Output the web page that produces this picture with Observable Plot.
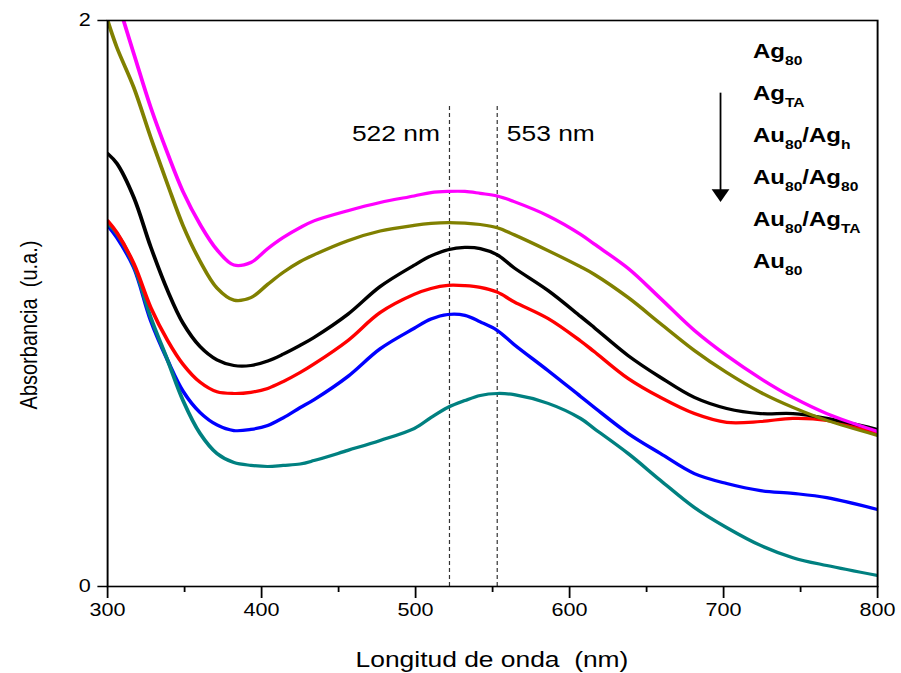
<!DOCTYPE html>
<html>
<head>
<meta charset="utf-8">
<script src="https://cdn.jsdelivr.net/npm/d3@7"></script>
<script src="https://cdn.jsdelivr.net/npm/@observablehq/plot@0.6"></script>
<style>
  html, body { margin: 0; padding: 0; background: #fff; }
  #chart svg { display: block; }
</style>
</head>
<body>
<div id="chart"></div>
<script>
// ---- data ----
const wavelength = [300, 306, 317, 328, 339, 349, 360, 371, 382, 393, 404, 414, 425, 434, 456, 477, 499, 510, 521, 532, 542, 553, 564, 586, 607, 616, 638, 659, 681, 702, 724, 745, 767, 800];
const ag80     = [2.17, 2.075, 1.883, 1.693, 1.53, 1.395, 1.28, 1.19, 1.136, 1.145, 1.194, 1.233, 1.268, 1.292, 1.328, 1.357, 1.38, 1.392, 1.396, 1.396, 1.389, 1.38, 1.36, 1.31, 1.245, 1.21, 1.124, 1.018, 0.905, 0.816, 0.735, 0.668, 0.611, 0.548];
const agTA     = [2.0, 1.905, 1.763, 1.587, 1.42, 1.275, 1.15, 1.055, 1.012, 1.021, 1.068, 1.11, 1.148, 1.172, 1.222, 1.256, 1.276, 1.283, 1.286, 1.284, 1.279, 1.268, 1.243, 1.187, 1.13, 1.103, 1.021, 0.929, 0.834, 0.756, 0.686, 0.633, 0.587, 0.534];
const au80Agh  = [1.53, 1.495, 1.375, 1.20, 1.045, 0.93, 0.848, 0.801, 0.781, 0.781, 0.797, 0.821, 0.852, 0.88, 0.962, 1.06, 1.135, 1.168, 1.19, 1.198, 1.194, 1.172, 1.126, 1.046, 0.955, 0.915, 0.816, 0.739, 0.668, 0.629, 0.611, 0.611, 0.594, 0.555];
const au80Ag80 = [1.293, 1.251, 1.141, 0.986, 0.869, 0.785, 0.722, 0.688, 0.682, 0.686, 0.70, 0.724, 0.756, 0.786, 0.869, 0.968, 1.032, 1.053, 1.064, 1.063, 1.057, 1.04, 1.006, 0.947, 0.868, 0.83, 0.735, 0.668, 0.611, 0.58, 0.583, 0.594, 0.587, 0.541];
const au80AgTA = [1.276, 1.233, 1.127, 0.94, 0.799, 0.69, 0.615, 0.571, 0.551, 0.555, 0.569, 0.596, 0.632, 0.66, 0.742, 0.84, 0.912, 0.945, 0.961, 0.958, 0.935, 0.905, 0.855, 0.763, 0.672, 0.633, 0.541, 0.47, 0.399, 0.364, 0.339, 0.329, 0.314, 0.272];
const au80     = [1.283, 1.247, 1.134, 0.951, 0.799, 0.657, 0.541, 0.47, 0.438, 0.428, 0.424, 0.428, 0.433, 0.445, 0.481, 0.516, 0.558, 0.597, 0.633, 0.657, 0.675, 0.682, 0.678, 0.647, 0.594, 0.558, 0.47, 0.375, 0.279, 0.208, 0.145, 0.102, 0.074, 0.039];

const seriesNames  = ["Ag80", "AgTA", "Au80/Agh", "Au80/Ag80", "Au80/AgTA", "Au80"];
const seriesColors = ["#ff00ff", "#808000", "#000000", "#ff0000", "#0000ff", "#008080"];
const legendLabels = ["Ag_80", "Ag_TA", "Au_80/Ag_h", "Au_80/Ag_80", "Au_80/Ag_TA", "Au_80"];
const drawOrder    = ["Au80/AgTA", "Au80", "Au80/Ag80", "Au80/Agh", "AgTA", "Ag80"];

const peakWavelengths = [522, 553];
const peakLabels      = ["522 nm", "553 nm"];

const xMajorTicks = [300, 400, 500, 600, 700, 800];
const xMinorTicks = [350, 450, 550, 650, 750];
const yTicks      = [0, 2];
const xTitle = "Longitud de onda  (nm)";
const yTitle = "Absorbancia  (u.a.)";

// annotation arrow (data coordinates)
const arrowX = 698, arrowTop = 1.745, arrowBottom = 1.40, arrowHead = 1.389;

// ---- layout ----
const W = 901, H = 673;
const SX = 1.2;          // the reference is stretched horizontally
const VW = W / SX;
const FONT = "Arial, 'Liberation Sans', sans-serif";

const series = [ag80, agTA, au80Agh, au80Ag80, au80AgTA, au80];
const rows = series.flatMap((vals, i) => vals.map((v, j) => ({nm: wavelength[j], a: v, s: seriesNames[i]})));

const downTriangle = {
  draw(ctx, size) {
    const y = Math.sqrt(size / (Math.sqrt(3) * 3));
    ctx.moveTo(0, 2 * y);
    ctx.lineTo(-Math.sqrt(3) * y, -y);
    ctx.lineTo(Math.sqrt(3) * y, -y);
    ctx.closePath();
  }
};

const plot = Plot.plot({
  width: VW,
  height: H,
  marginLeft: 107 / SX,
  marginRight: 24 / SX,
  marginTop: 20,
  marginBottom: 87,
  style: {fontFamily: FONT, fontSize: "18px", color: "#000", background: "#fff", overflow: "visible"},
  x: {domain: [300, 800]},
  y: {domain: [0, 2]},
  color: {domain: seriesNames, range: seriesColors},
  marks: [
    Plot.ruleX(peakWavelengths, {x: d => d, y1: 0, y2: 1.70, stroke: "#333", strokeDasharray: "4,3", strokeWidth: 1}),
    ...drawOrder.map(name => Plot.line(rows.filter(d => d.s === name), {
      x: "nm", y: "a", stroke: "s", strokeWidth: 3.2, curve: "catmull-rom", clip: true
    })),
    Plot.text([peakLabels[0]], {x: () => peakWavelengths[0], y: () => 1.60, text: d => d, textAnchor: "end", dx: -8, fontSize: 22, fill: "#000"}),
    Plot.text([peakLabels[1]], {x: () => peakWavelengths[1], y: () => 1.60, text: d => d, textAnchor: "start", dx: 8, fontSize: 22, fill: "#000"}),
    Plot.link([0], {x1: arrowX, x2: arrowX, y1: arrowTop, y2: arrowBottom, stroke: "#000", strokeWidth: 1.5}),
    Plot.dot([0], {x: arrowX, y: arrowHead, symbol: downTriangle, r: 5.5, fill: "#000", stroke: "none"}),
    Plot.frame({stroke: "#000", strokeWidth: 1.6}),
    Plot.axisY({ticks: yTicks, tickSize: 8, tickPadding: 6, label: null, strokeWidth: 1.5, tickFormat: d => String(d)}),
    Plot.axisX({ticks: xMajorTicks, tickSize: 12, tickPadding: 5, label: null, strokeWidth: 1.5, tickFormat: d => String(d)}),
    Plot.axisX({ticks: xMinorTicks, tickSize: 6, label: null, strokeWidth: 1.5, tickFormat: () => ""})
  ]
});

// stretch horizontally like the reference
plot.setAttribute("width", W);
plot.setAttribute("height", H);
plot.setAttribute("preserveAspectRatio", "none");
plot.style.width = W + "px";
plot.style.height = H + "px";
plot.style.maxWidth = "none";

const svg = d3.select(plot);

// axis titles
svg.append("text")
  .attr("x", 492 / SX).attr("y", 667)
  .attr("text-anchor", "middle")
  .attr("font-family", FONT).attr("font-size", 22).attr("fill", "#000")
  .attr("xml:space", "preserve").style("white-space", "pre")
  .text(xTitle);

svg.append("text")
  .attr("transform", `translate(${37 / SX},325) rotate(-90)`)
  .attr("text-anchor", "middle")
  .attr("font-family", FONT).attr("font-size", 20).attr("fill", "#000")
  .attr("xml:space", "preserve").style("white-space", "pre")
  .text(yTitle);

// legend (text with subscripts)
legendLabels.forEach((lab, i) => {
  const t = svg.append("text")
    .attr("x", 753 / SX).attr("y", 58 + i * 42)
    .attr("text-anchor", "start")
    .attr("font-family", FONT).attr("font-size", 20).attr("font-weight", "bold").attr("fill", "#000");
  const parts = lab.split(/_([A-Za-z0-9]+)/);
  let shifted = false;
  parts.forEach((p, k) => {
    if (!p) return;
    const ts = t.append("tspan").text(p);
    if (k % 2 === 1) {
      ts.attr("font-size", 13).attr("dy", shifted ? 0 : 7);
      shifted = true;
    } else {
      ts.attr("dy", shifted ? -7 : 0);
      shifted = false;
    }
  });
});

document.getElementById("chart").appendChild(plot);
</script>
</body>
</html>
